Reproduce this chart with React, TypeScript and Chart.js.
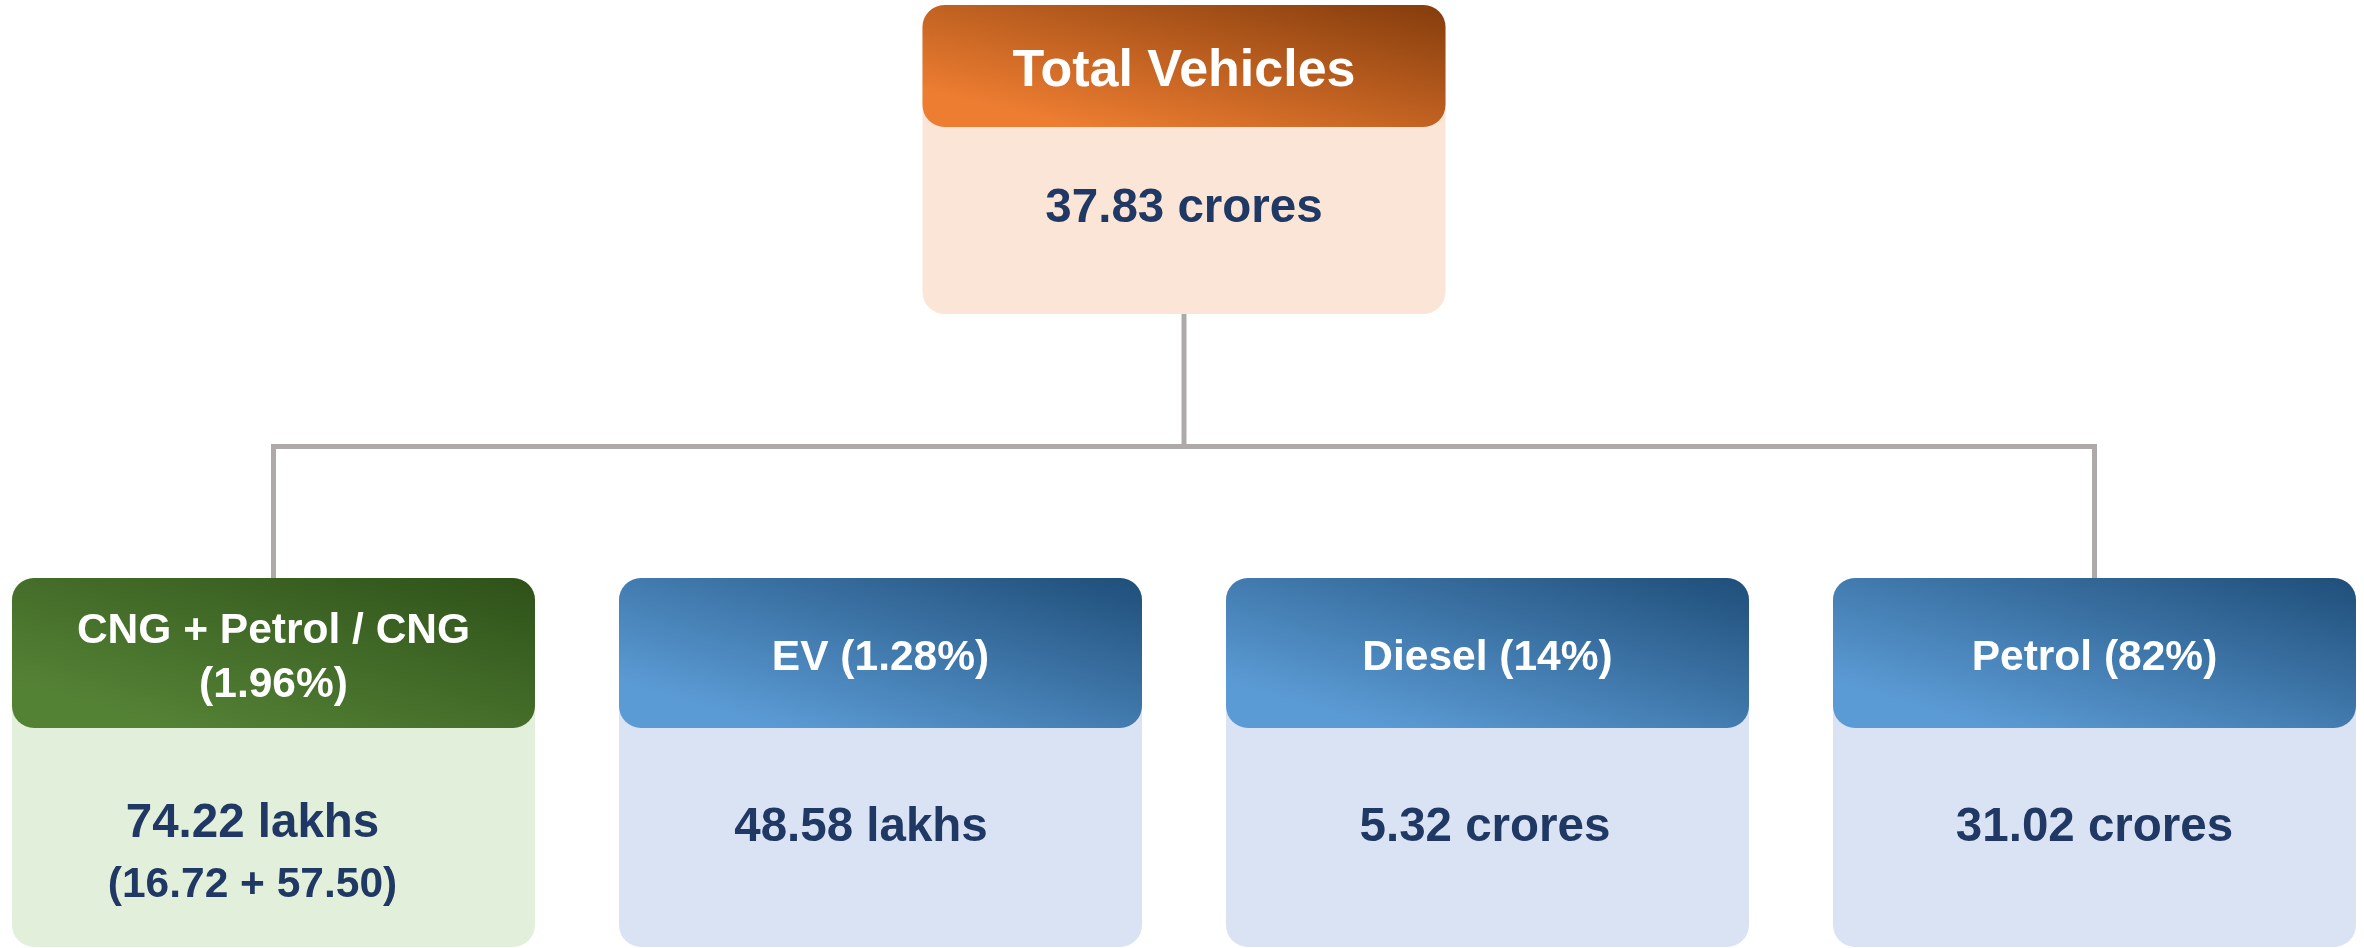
import React, { useEffect, useRef } from "react";
import { Chart, registerables } from "chart.js";

Chart.register(...registerables);

// ---------- data ----------
const nodeTitles = ["Total Vehicles", "CNG + Petrol / CNG", "EV", "Diesel", "Petrol"];
const nodeShares = ["", "1.96%", "1.28%", "14%", "82%"];
const nodeValues = ["37.83 crores", "74.22 lakhs", "48.58 lakhs", "5.32 crores", "31.02 crores"];
const nodeBreakdowns = ["", "(16.72 + 57.50)", "", "", ""];
const nodeLevels = [0, 1, 1, 1, 1];
const nodeThemes = ["orange", "green", "blue", "blue", "blue"];

// ---------- layout / style ----------
const W = 2364;
const H = 948;
const COL0_PX = 273.5;
const COL_STEP_PX = 607;
const BOX_W_UNITS = 523 / COL_STEP_PX;
const RADIUS = 22;
const ROWS = [
  { top: 5, head: 127, bottom: 314, titleSize: 52, valueFrac: 0.417 },
  { top: 578, head: 728, bottom: 947, titleSize: 42.5, valueFrac: 0.438 },
];
const VALUE_TEXT_NUDGE = [0, -21, -19.5, -2.5, 0]; // body text horizontal offsets (px)
const BUS_Y = 446.5;
const LINE_COLOR = "#AEAAAA";
const TEXT_DARK = "#203864";
const FONT = '"Liberation Sans", Arial, sans-serif';
const THEMES: Record<string, { light: string; dark: string; body: string }> = {
  orange: { light: "#ED7D31", dark: "#843C0C", body: "#FBE5D6" },
  green: { light: "#548235", dark: "#2E5119", body: "#E2EFDA" },
  blue: { light: "#5B9BD5", dark: "#1F4E79", body: "#DAE3F3" },
};

// columns derived from the tree structure
const childIdx = nodeLevels.map((l, i) => (l === 1 ? i : -1)).filter((i) => i >= 0);
const nodeColumns = nodeLevels.map((l, i) =>
  l === 0 ? (childIdx.length - 1) / 2 : childIdx.indexOf(i)
);
const firstCol = 0;
const lastCol = childIdx.length - 1;
const rootCol = (childIdx.length - 1) / 2;

function wrap(ctx: CanvasRenderingContext2D, text: string, maxW: number): string[] {
  const words = text.split(" ");
  const lines: string[] = [];
  let cur = "";
  for (const w of words) {
    const t = cur ? cur + " " + w : w;
    if (cur && ctx.measureText(t).width > maxW) {
      lines.push(cur);
      cur = w;
    } else cur = t;
  }
  if (cur) lines.push(cur);
  return lines;
}

// PowerPoint-like "scaled 45°" gradient: bottom-left -> top-right of the shape
function shapeGradient(ctx: CanvasRenderingContext2D, l: number, t: number, w: number, h: number, light: string, dark: string) {
  const cx = l + w / 2;
  const cy = t + h / 2;
  const f = (w * h) / (w * w + h * h);
  const dx = h * f;
  const dy = w * f;
  const g = ctx.createLinearGradient(cx - dx, cy + dy, cx + dx, cy - dy);
  g.addColorStop(0, light);
  g.addColorStop(0.15, light);
  g.addColorStop(1, dark);
  return g;
}

const treePlugin = {
  id: "treeBoxes",
  afterDatasetsDraw(chart: any) {
    const { ctx } = chart;
    const x = chart.scales.x;
    const y = chart.scales.y;
    ctx.save();
    nodeTitles.forEach((title, i) => {
      const row = ROWS[nodeLevels[i]];
      const theme = THEMES[nodeThemes[i]];
      const cx = x.getPixelForValue(nodeColumns[i]);
      const half = (x.getPixelForValue(BOX_W_UNITS) - x.getPixelForValue(0)) / 2;
      const left = cx - half;
      const right = cx + half;
      const top = y.getPixelForValue(row.top);
      const head = y.getPixelForValue(row.head);
      const bottom = y.getPixelForValue(row.bottom);

      // body
      ctx.beginPath();
      ctx.roundRect(left, top, right - left, bottom - top, RADIUS);
      ctx.fillStyle = theme.body;
      ctx.fill();

      // header
      ctx.beginPath();
      ctx.roundRect(left, top, right - left, head - top, RADIUS);
      ctx.fillStyle = shapeGradient(ctx, left, top, right - left, head - top, theme.light, theme.dark);
      ctx.fill();

      // header text
      const label = nodeShares[i] ? `${title} (${nodeShares[i]})` : title;
      ctx.fillStyle = "#FFFFFF";
      ctx.textAlign = "center";
      ctx.textBaseline = "alphabetic";
      const ts = row.titleSize;
      ctx.font = `700 ${ts}px ${FONT}`;
      const lines = wrap(ctx, label, right - left - 60);
      const lh = 54;
      const hc = (top + head) / 2 + 1.5 + 0.358 * ts;
      lines.forEach((ln, k) => {
        ctx.fillText(ln, cx, hc + (k - (lines.length - 1) / 2) * lh);
      });

      // body text
      const tx = cx + VALUE_TEXT_NUDGE[i];
      const vc = head + row.valueFrac * (bottom - head);
      ctx.fillStyle = TEXT_DARK;
      ctx.font = `700 47.5px ${FONT}`;
      if (nodeBreakdowns[i]) {
        ctx.fillText(nodeValues[i], tx, vc + 17 - 4);
        ctx.font = `700 42.5px ${FONT}`;
        ctx.fillText(nodeBreakdowns[i], tx, vc + 17 + 56);
      } else {
        ctx.fillText(nodeValues[i], tx, vc + 17);
      }
    });
    ctx.restore();
  },
};

export default function App() {
  const ref = useRef<HTMLCanvasElement | null>(null);
  useEffect(() => {
    if (!ref.current) return;
    const chart = new Chart(ref.current, {
      type: "line",
      data: {
        datasets: [
          {
            label: "bus",
            data: [
              { x: firstCol, y: ROWS[1].top + 2 },
              { x: firstCol, y: BUS_Y },
              { x: lastCol, y: BUS_Y },
              { x: lastCol, y: ROWS[1].top + 2 },
            ],
            borderColor: LINE_COLOR,
            borderWidth: 5,
            pointRadius: 0,
            tension: 0,
            fill: false,
            borderJoinStyle: "miter",
            borderCapStyle: "butt",
          },
          {
            label: "stem",
            data: [
              { x: rootCol, y: ROWS[0].bottom - 2 },
              { x: rootCol, y: BUS_Y },
            ],
            borderColor: LINE_COLOR,
            borderWidth: 5,
            pointRadius: 0,
            tension: 0,
            fill: false,
            borderCapStyle: "butt",
          },
        ],
      },
      options: {
        responsive: false,
        animation: false,
        devicePixelRatio: 1,
        layout: { padding: 0 },
        plugins: { legend: { display: false }, tooltip: { enabled: false } },
        scales: {
          x: {
            type: "linear",
            display: false,
            min: -COL0_PX / COL_STEP_PX,
            max: (W - COL0_PX) / COL_STEP_PX,
          },
          y: { type: "linear", display: false, reverse: true, min: 0, max: H },
        },
      },
      plugins: [treePlugin],
    } as any);
    return () => chart.destroy();
  }, []);
  return (
    <div style={{ position: "absolute", left: 0, top: 0, width: W, height: H, background: "#fff" }}>
      <canvas ref={ref} width={W} height={H} style={{ display: "block" }} />
    </div>
  );
}
